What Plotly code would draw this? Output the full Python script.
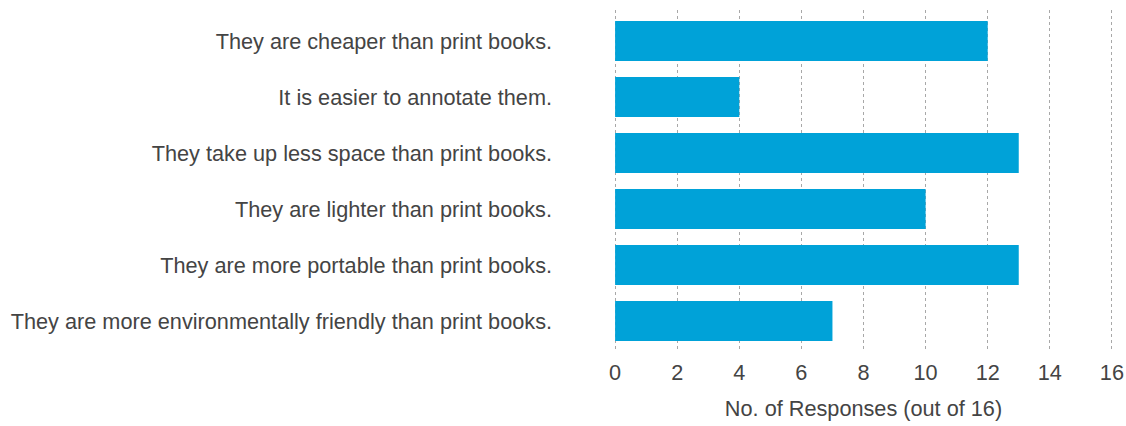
import plotly.graph_objects as go

categories = [
    "They are cheaper than print books.",
    "It is easier to annotate them.",
    "They take up less space than print books.",
    "They are lighter than print books.",
    "They are more portable than print books.",
    "They are more environmentally friendly than print books.",
]
responses = [12, 4, 13, 10, 13, 7]
x_ticks = [0, 2, 4, 6, 8, 10, 12, 14, 16]

font_family = "Liberation Sans, Arial, sans-serif"
text_color = "#444444"
fs = 21.7

fig = go.Figure(
    go.Bar(
        x=responses,
        y=categories,
        orientation="h",
        marker=dict(color="#00a2d8", line=dict(width=0)),
        hoverinfo="x+y",
    )
)

fig.update_layout(
    width=1126,
    height=426,
    margin=dict(l=612, r=11, t=10, b=76, autoexpand=False),
    paper_bgcolor="white",
    plot_bgcolor="white",
    bargap=0.2857,
    showlegend=False,
    font=dict(family=font_family, size=fs, color=text_color),
)

fig.update_xaxes(
    range=[-0.1, 16.1],
    tickvals=x_ticks,
    ticktext=[str(v) for v in x_ticks],
    showgrid=True,
    gridcolor="#a8a8a8",
    griddash="dot",
    gridwidth=1,
    zeroline=False,
    showline=False,
    ticks="",
    automargin=False,
    ticklabelstandoff=7,
    tickfont=dict(size=fs, color=text_color),
    title=dict(text="No. of Responses (out of 16)", standoff=17,
               font=dict(size=fs, color=text_color)),
    fixedrange=True,
)

fig.update_yaxes(
    categoryorder="array",
    categoryarray=categories[::-1],
    range=[-0.518, 5.554],
    showgrid=False,
    zeroline=False,
    showline=False,
    ticks="",
    automargin=False,
    ticklabelstandoff=59,
    tickfont=dict(size=fs, color=text_color),
    fixedrange=True,
)

fig.write_html("out.html")
